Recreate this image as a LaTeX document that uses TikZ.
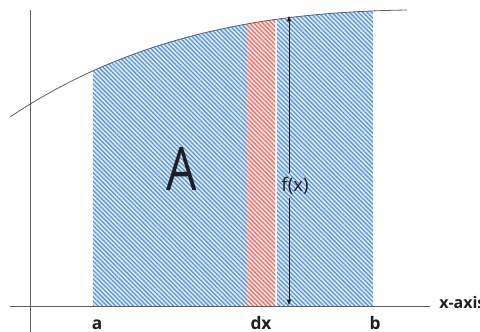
\documentclass[tikz,border=0pt]{standalone}
\usepackage{fontspec}
\setmainfont{Open Sans}
\usetikzlibrary{patterns.meta,arrows.meta}
\definecolor{hblue}{RGB}{95,148,208}
\definecolor{hred}{RGB}{225,115,108}
\definecolor{bgblue}{RGB}{218,235,250}
\definecolor{bgred}{RGB}{252,226,224}
\definecolor{axgray}{RGB}{95,95,95}
\definecolor{txt}{RGB}{30,30,35}
\begin{document}
\begin{tikzpicture}[x=0.75pt,y=-0.75pt,
  axis/.style={draw=axgray,line width=0.6pt},
  bluehatch/.style={preaction={fill=bgblue},pattern={Lines[angle=-45,distance=2.35pt,line width=0.95pt]},pattern color=hblue},
  redhatch/.style={preaction={fill=bgred},pattern={Lines[angle=-45,distance=2.35pt,line width=0.95pt]},pattern color=hred},
  lbl/.style={font=\fontsize{13}{15}\selectfont\bfseries,text=txt,inner sep=0pt},
  arr/.style={draw=txt,line width=0.6pt,-{Triangle[length=4pt,width=3pt]}}]
\useasboundingbox (0,0) rectangle (480,332);
\fill[white] (0,0) rectangle (480,332);
\begin{scope}
  \clip (10,117) .. controls (140,30) and (280,12) .. (407,10) -- (407,307) -- (10,307) -- cycle;
  \path[bluehatch] (93,0) rectangle (247,306);
  \path[redhatch] (247,0) rectangle (275.5,306);
  \path[bluehatch] (277,0) rectangle (373,306);
\end{scope}
\draw[axis] (30,10) -- (30,332);
\draw[axis] (10,306) -- (430,306);
\draw[axis] (10,117) .. controls (140,30) and (280,12) .. (407,10);
\node[font=\fontsize{45}{45}\selectfont,text=txt,xscale=0.8,inner sep=0pt] (A) at (181.5,169) {A};
\coordinate (ftop) at (289,16);
\coordinate (fbot) at (289,305);
\node[font=\fontsize{14}{16}\selectfont,text=txt,inner sep=0pt,minimum height=25*0.75pt] (fx) at (295,185.5) {f(x)};
\draw[arr] (fx.north -| ftop) -- (ftop);
\draw[arr] (fx.south -| fbot) -- (fbot);
\node[lbl,anchor=base] (la) at (97,329.5) {a};
\node[lbl,anchor=base] (ldx) at (261,329.5) {dx};
\node[lbl,anchor=base] (lb) at (375,329.5) {b};
\node[lbl,font=\fontsize{12}{14}\selectfont\bfseries,anchor=base west] (lx) at (439,309) {x-axis};
\end{tikzpicture}
\end{document}
